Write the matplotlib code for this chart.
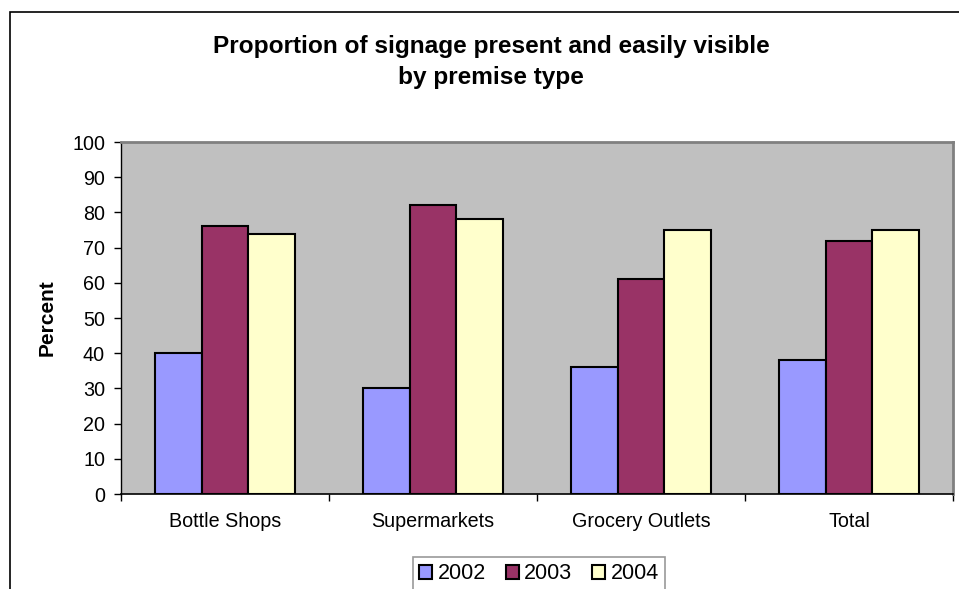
import matplotlib
matplotlib.use("Agg")
import matplotlib.pyplot as plt
from matplotlib.patches import Rectangle
import numpy as np

plt.rcParams['font.family'] = ['Liberation Sans', 'DejaVu Sans']

categories = ["Bottle Shops", "Supermarkets", "Grocery Outlets", "Total"]
series_names = ["2002", "2003", "2004"]
v2002 = [40, 30, 36, 38]
v2003 = [76, 82, 61, 72]
v2004 = [74, 78, 75, 75]
colors = ["#9999FF", "#993366", "#FFFFCC"]

W, H = 959, 589
fig = plt.figure(figsize=(W/100, H/100), dpi=100)
fig.patch.set_facecolor("white")

# chart area border (partly cropped)
fig.patches.append(Rectangle((10/W, -0.2), 1.2, (H-12)/H + 0.2, transform=fig.transFigure,
                             fill=False, edgecolor="black", linewidth=1.2, clip_on=False))

ax = fig.add_axes([121/W, (H-494)/H, (953-121)/W, (494-142)/H])
ax.set_facecolor("#C0C0C0")

x = np.arange(len(categories))
bw = 0.2236
for i, (vals, c, name) in enumerate(zip([v2002, v2003, v2004], colors, series_names)):
    ax.bar(x + (i-1)*bw, vals, width=bw, color=c, edgecolor="black", linewidth=1.5,
           label=name, zorder=3)

ax.set_xlim(-0.5, len(categories)-0.5)
ax.set_ylim(0, 100)
ax.set_yticks(np.arange(0, 101, 10))
ax.tick_params(axis='y', direction='out', length=5, width=1, labelsize=14.2, pad=6.5)
ax.set_xticks(np.arange(-0.5, len(categories), 1))
ax.set_xticklabels([])
ax.set_xticks(x, minor=True)
ax.set_xticklabels(categories, minor=True)
ax.tick_params(axis='x', which='major', direction='out', length=5, width=1)
ax.tick_params(axis='x', which='minor', length=0, labelsize=14.2, pad=13)

for s in ['top', 'right']:
    ax.spines[s].set_color("#808080")
    ax.spines[s].set_linewidth(2)
ax.spines['left'].set_color("black")
ax.spines['bottom'].set_color("black")
ax.spines['left'].set_linewidth(1)
ax.spines['bottom'].set_linewidth(1.2)

ax.set_ylabel("Percent", fontsize=15, fontweight='bold')
ax.yaxis.set_label_coords((47-121)/(953-121), (494-318)/(494-142))
ax.yaxis.label.set_va('center')

fig.text(491/W, 1-62/H, "Proportion of signage present and easily visible\nby premise type",
         ha='center', va='center', fontsize=17.6, fontweight='bold', linespacing=1.4)

leg = ax.legend(loc='upper left', bbox_to_anchor=(413/W, 1-557/H), bbox_transform=fig.transFigure,
                ncol=3, fontsize=15.5, frameon=True, fancybox=False, handlelength=0.6, handleheight=0.6,
                handletextpad=0.25, columnspacing=0.93, borderpad=0.3, borderaxespad=0)
leg.get_frame().set_edgecolor("#808080")
leg.get_frame().set_linewidth(1.2)
for h in leg.legend_handles:
    h.set_linewidth(1.5)

fig.savefig("out.png", dpi=100)
